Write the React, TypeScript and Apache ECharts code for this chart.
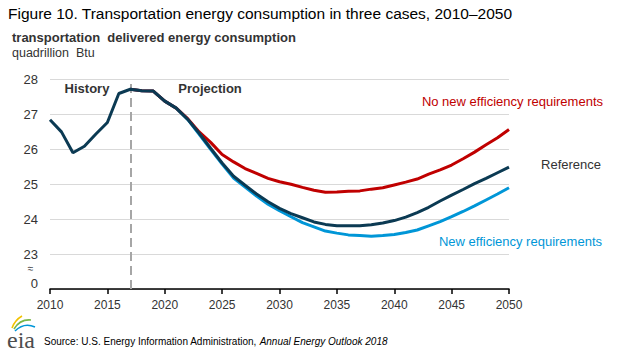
import React, { useEffect, useRef } from "react";
import * as echarts from "echarts";

const years = [
  2010, 2011, 2012, 2013, 2014, 2015, 2016, 2017, 2018, 2019,
  2020, 2021, 2022, 2023, 2024, 2025, 2026, 2027, 2028, 2029,
  2030, 2031, 2032, 2033, 2034, 2035, 2036, 2037, 2038, 2039,
  2040, 2041, 2042, 2043, 2044, 2045, 2046, 2047, 2048, 2049, 2050,
];

// Reference case, 2010-2050
const referenceValues = [
  26.85, 26.5, 25.9, 26.09, 26.44, 26.77, 27.6, 27.72, 27.68, 27.67,
  27.38, 27.18, 26.86, 26.46, 26.03, 25.61, 25.23, 24.97, 24.72, 24.5,
  24.31, 24.16, 24.04, 23.92, 23.85, 23.81, 23.81, 23.81, 23.84, 23.89,
  23.96, 24.06, 24.19, 24.34, 24.52, 24.69, 24.85, 25.02, 25.17, 25.33, 25.49,
];

// Scenario cases, 2017-2050
const scenarioStartYear = 2017;
const noNewEfficiencyValues = [
  27.72, 27.68, 27.67, 27.38, 27.18, 26.88, 26.5, 26.2, 25.85, 25.64,
  25.45, 25.31, 25.17, 25.07, 25.0, 24.91, 24.83, 24.77, 24.78, 24.8,
  24.81, 24.86, 24.9, 24.98, 25.06, 25.15, 25.29, 25.41, 25.55, 25.73,
  25.92, 26.13, 26.33, 26.57,
];
const newEfficiencyValues = [
  27.72, 27.68, 27.67, 27.38, 27.18, 26.86, 26.43, 26.0, 25.58, 25.18,
  24.92, 24.66, 24.43, 24.24, 24.07, 23.9, 23.78, 23.66, 23.6, 23.55,
  23.53, 23.51, 23.53, 23.56, 23.62, 23.69, 23.81, 23.93, 24.07, 24.22,
  24.38, 24.55, 24.72, 24.9,
];

const yTickValues = [22, 23, 24, 25, 26, 27, 28];
const yTickLabels = ["0", "23", "24", "25", "26", "27", "28"];
const projectionStartYear = 2017;

const FONT = "'Liberation Sans', Arial, sans-serif";
const NAVY = "#0b3a53";
const RED = "#c00000";
const BLUE = "#0096d7";

export default function App() {
  const ref = useRef<HTMLDivElement>(null);
  useEffect(() => {
    if (!ref.current) return;
    const chart = echarts.init(ref.current, undefined, { renderer: "svg" });
    const refData = years.map((y, i) => [y, referenceValues[i]]);
    const startIdx = years.indexOf(scenarioStartYear);
    const noNewData = noNewEfficiencyValues.map((v, i) => [years[startIdx + i], v]);
    const newData = newEfficiencyValues.map((v, i) => [years[startIdx + i], v]);

    chart.setOption({
      animation: false,
      backgroundColor: "#ffffff",
      grid: { left: 50, right: 121, top: 79.5, bottom: 71, containLabel: false },
      xAxis: {
        type: "value",
        min: 2010,
        max: 2050,
        interval: 5,
        axisLine: { show: true, lineStyle: { color: "#000", width: 1.5 } },
        axisTick: { show: true, length: 5, lineStyle: { color: "#000", width: 1.5 } },
        splitLine: { show: false },
        axisLabel: {
          margin: 10,
          fontFamily: FONT,
          fontSize: 12,
          color: "#333",
          formatter: (v: number) => String(v),
        },
      },
      yAxis: {
        type: "value",
        min: 22,
        max: 28,
        interval: 1,
        axisLine: { show: false },
        axisTick: { show: false },
        splitLine: { show: true, lineStyle: { color: "#d9d9d9", width: 1 } },
        axisLabel: {
          margin: 12,
          fontFamily: FONT,
          fontSize: 13,
          color: "#333",
          formatter: (v: number) => {
            const i = yTickValues.indexOf(v);
            const t = i >= 0 ? yTickLabels[i] : String(v);
            return v === 22 ? "{z|" + t + "}" : t;
          },
          rich: { z: { fontFamily: FONT, fontSize: 13, color: "#333", padding: [0, 0, 12, 0] } },
        },
      },
      series: [
        {
          name: "New efficiency requirements",
          type: "line",
          data: newData,
          symbol: "none",
          lineStyle: { color: BLUE, width: 3 },
          z: 2,
        },
        {
          name: "No new efficiency requirements",
          type: "line",
          data: noNewData,
          symbol: "none",
          lineStyle: { color: RED, width: 3 },
          z: 3,
        },
        {
          name: "Reference",
          type: "line",
          data: refData,
          symbol: "none",
          lineStyle: { color: NAVY, width: 3 },
          z: 4,
          markLine: {
            silent: true,
            symbol: ["none", "none"],
            label: { show: false },
            lineStyle: { color: "#a6a6a6", type: [9, 5], width: 2 },
            data: [{ xAxis: projectionStartYear }],
            z: 1,
          },
        },
      ],
      graphic: [
        {
          type: "text",
          left: 8,
          top: 5,
          style: {
            text: "Figure 10. Transportation energy consumption in three cases, 2010–2050",
            font: "15.5px " + FONT,
            fill: "#000",
          },
        },
        {
          type: "text",
          left: 12,
          top: 31,
          style: {
            text: "transportation  delivered energy consumption",
            font: "bold 13px " + FONT,
            fill: "#333",
          },
        },
        {
          type: "text",
          left: 12,
          top: 46,
          style: { text: "quadrillion  Btu", font: "12.5px " + FONT, fill: "#333" },
        },
        {
          type: "text",
          x: 87,
          y: 88,
          style: { text: "History", font: "bold 13px " + FONT, fill: "#333", align: "center", verticalAlign: "middle" },
        },
        {
          type: "text",
          x: 210,
          y: 88,
          style: { text: "Projection", font: "bold 13px " + FONT, fill: "#333", align: "center", verticalAlign: "middle" },
        },
        {
          type: "text",
          x: 603,
          y: 101.5,
          style: { text: "No new efficiency requirements", font: "13px " + FONT, fill: RED, align: "right", verticalAlign: "middle" },
        },
        {
          type: "text",
          x: 601,
          y: 164,
          style: { text: "Reference", font: "13px " + FONT, fill: "#333", align: "right", verticalAlign: "middle" },
        },
        {
          type: "text",
          x: 602,
          y: 241,
          style: { text: "New efficiency requirements", font: "13px " + FONT, fill: BLUE, align: "right", verticalAlign: "middle" },
        },
        {
          type: "text",
          x: 30.5,
          y: 268,
          style: { text: "≈", font: "10px " + FONT, fill: "#333", align: "center", verticalAlign: "middle" },
        },
        // EIA logo
        {
          type: "bezierCurve",
          shape: { x1: 12, y1: 328, x2: 22, y2: 316, cpx1: 15, cpy1: 320 },
          style: { stroke: "#f2c200", lineWidth: 1.6, fill: null },
        },
        {
          type: "bezierCurve",
          shape: { x1: 14, y1: 329, x2: 31, y2: 320, cpx1: 20, cpy1: 319 },
          style: { stroke: "#7ab648", lineWidth: 1.6, fill: null },
        },
        {
          type: "bezierCurve",
          shape: { x1: 15, y1: 331, x2: 35, y2: 327, cpx1: 24, cpy1: 322 },
          style: { stroke: "#0096d7", lineWidth: 1.6, fill: null },
        },
        {
          type: "text",
          x: 7,
          y: 340,
          style: { text: "eia", font: "24px 'Liberation Serif', 'DejaVu Serif', serif", fill: "#4d4d4d", verticalAlign: "middle" },
        },
        {
          type: "text",
          left: 44,
          top: 336,
          style: {
            text: "{a|Source: U.S. Energy Information Administration, }{b|Annual Energy Outlook 2018}",
            rich: {
              a: { font: "10px " + FONT, fill: "#000" },
              b: { font: "italic 10px " + FONT, fill: "#000" },
            },
          },
        },
      ],
    });
    return () => chart.dispose();
  }, []);
  return (
    <div
      ref={ref}
      style={{ position: "absolute", left: 0, top: 0, width: 630, height: 360 }}
    />
  );
}
